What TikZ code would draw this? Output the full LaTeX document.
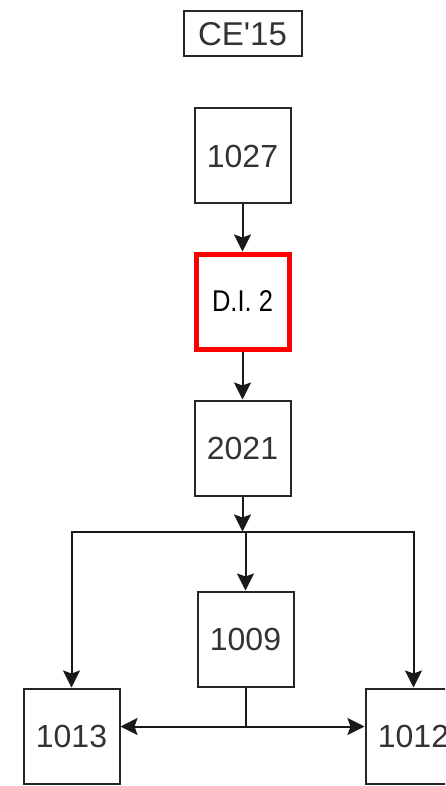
\documentclass[tikz,border=0pt]{standalone}
\usepackage{fontspec}
\setmainfont{Liberation Sans}[Ligatures=TeXOff]
\newfontfamily\narrowsans[FakeStretch=0.85]{Liberation Sans}
\usetikzlibrary{arrows.meta,positioning}

\begin{document}
\begin{tikzpicture}[x=1pt, y=1pt,
  box/.style={draw=black!85, line width=2pt, align=center, minimum width=96pt, minimum height=95pt, font=\fontsize{32}{38}\selectfont, text=black!80},
  tag/.style={draw=black!85, line width=2pt, align=center, minimum width=118pt, minimum height=45pt, font=\fontsize{33}{38}\selectfont, text=black!80},
  hot/.style={draw=red, line width=5pt, align=center, minimum width=93pt, minimum height=95pt, font=\narrowsans\fontsize{30}{36}\selectfont},
  arr/.style={-{Stealth[length=17pt, width=17pt, inset=3pt]}, line width=2pt, black!90},
  wire/.style={line width=2pt, black!90}
]
\useasboundingbox (0,0) rectangle (445,-786);
\clip (0,0) rectangle (445,-786);

\node[tag] (ce) at (242.5,-34) {CE'15};
\node[box, below=50pt of ce] (b1027) {1027};
\node[hot, below=47pt of b1027] (di) {D.I. 2};
\node[box, below=48pt of di] (b2021) {2021};
\node[box, below=94pt of b2021, xshift=3pt] (b1009) {1009};
\node[box, below left=0pt and 76pt of b1009] (b1013) {1013};
\node[box, below right=0pt and 70pt of b1009] (b1012) {1012};

% splits
\coordinate[below=35pt of b2021] (split);
\coordinate[below=39pt of b1009] (fork);

\draw[arr] (b1027) -- (di);
\draw[arr] (di) -- (b2021);
\draw[arr] (b2021) -- (split);
\draw[arr] (split) -| (b1013.north);
\draw[arr] (split) -| (b1012.north);
\draw[arr] (split -| b1009.north) -- (b1009.north);
\draw[wire] (b1009) -- (fork);
\draw[arr] (fork) -- (fork -| b1013.east);
\draw[arr] (fork) -- (fork -| b1012.west);

\end{tikzpicture}
\end{document}
